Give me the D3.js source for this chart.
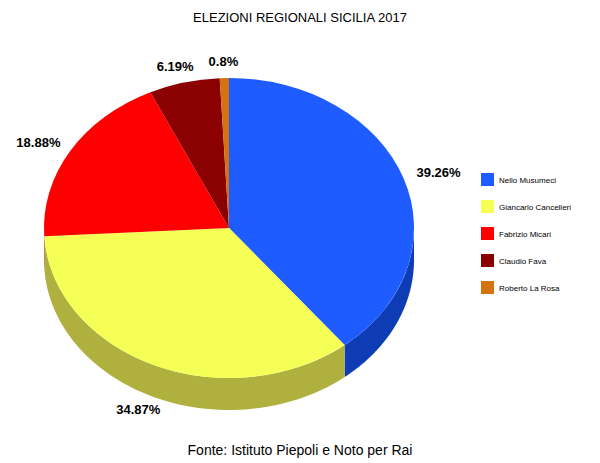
<!DOCTYPE html>
<html><head><meta charset="utf-8">
<script src="https://cdn.jsdelivr.net/npm/d3@7"></script>
<style>body{margin:0;background:#fff}text{font-family:"Liberation Sans",Arial,sans-serif}</style>
</head><body>
<svg id="chart" width="600" height="463"></svg>
<script>
var candidates = ["Nello Musumeci","Giancarlo Cancelleri","Fabrizio Micari","Claudio Fava","Roberto La Rosa"];
var shares = [39.26, 34.87, 18.88, 6.19, 0.8];
var topColors = ["#1f5cff","#f5ff55","#ff0000","#8b0000","#d2730f"];
var sideColors = ["#0d3cb4","#b0b03e","#b00000","#5a0000","#8f4e0a"];

var svg = d3.select("#chart");
var cx = 229, cy = 228, rx = 185, ry = 150, depth = 32;

svg.append("text").attr("x", 300).attr("y", 22).attr("text-anchor", "middle")
  .style("font-size", "13px").text("ELEZIONI REGIONALI SICILIA 2017");
svg.append("text").attr("x", 300).attr("y", 455).attr("text-anchor", "middle")
  .style("font-size", "14px").text("Fonte: Istituto Piepoli e Noto per Rai");

var pie = d3.pie().sort(null).value(function(d){ return d; });
var arcsData = pie(shares);

function px(a){ return cx + rx * Math.sin(a); }
function py(a){ return cy - ry * Math.cos(a); }

// sides (only the front half is visible)
arcsData.forEach(function(d, i){
  var a0 = Math.max(d.startAngle, Math.PI / 2), a1 = Math.min(d.endAngle, Math.PI * 3 / 2);
  if (a1 <= a0) return;
  var steps = 60, pts = [];
  for (var s = 0; s <= steps; s++) {
    var a = a0 + (a1 - a0) * s / steps;
    pts.push([px(a), py(a)]);
  }
  for (var s = steps; s >= 0; s--) {
    var a = a0 + (a1 - a0) * s / steps;
    pts.push([px(a), py(a) + depth]);
  }
  svg.append("path").attr("d", d3.line()(pts) + "Z").attr("fill", sideColors[i]);
});

// top face
var arc = d3.arc().innerRadius(0).outerRadius(rx);
var topFace = svg.append("g").attr("transform", "translate(" + cx + "," + cy + ") scale(1," + (ry / rx) + ")");
topFace.selectAll("path").data(arcsData).enter().append("path")
  .attr("d", arc).attr("fill", function(d, i){ return topColors[i]; });

// labels
svg.selectAll(".lbl").data(arcsData).enter().append("text")
  .attr("class", "lbl")
  .attr("x", function(d){ var m = (d.startAngle + d.endAngle) / 2; return cx + rx * 1.2 * Math.sin(m); })
  .attr("y", function(d){
    var m = (d.startAngle + d.endAngle) / 2;
    return cy - ry * 1.1 * Math.cos(m) + (Math.cos(m) < 0 ? depth : 0);
  })
  .attr("text-anchor", "middle").attr("dominant-baseline", "middle")
  .style("font-size", "13px").style("font-weight", "bold")
  .text(function(d){ return d.data + "%"; });

// legend
var ly = d3.scaleBand().domain(candidates).range([173, 308]);
var leg = svg.selectAll(".leg").data(candidates).enter().append("g")
  .attr("transform", function(d){ return "translate(481," + ly(d) + ")"; });
leg.append("rect").attr("width", 13).attr("height", 13)
  .attr("fill", function(d, i){ return topColors[i]; });
leg.append("text").attr("x", 18).attr("y", 10).style("font-size", "8px")
  .text(function(d){ return d; });
</script>
</body></html>
